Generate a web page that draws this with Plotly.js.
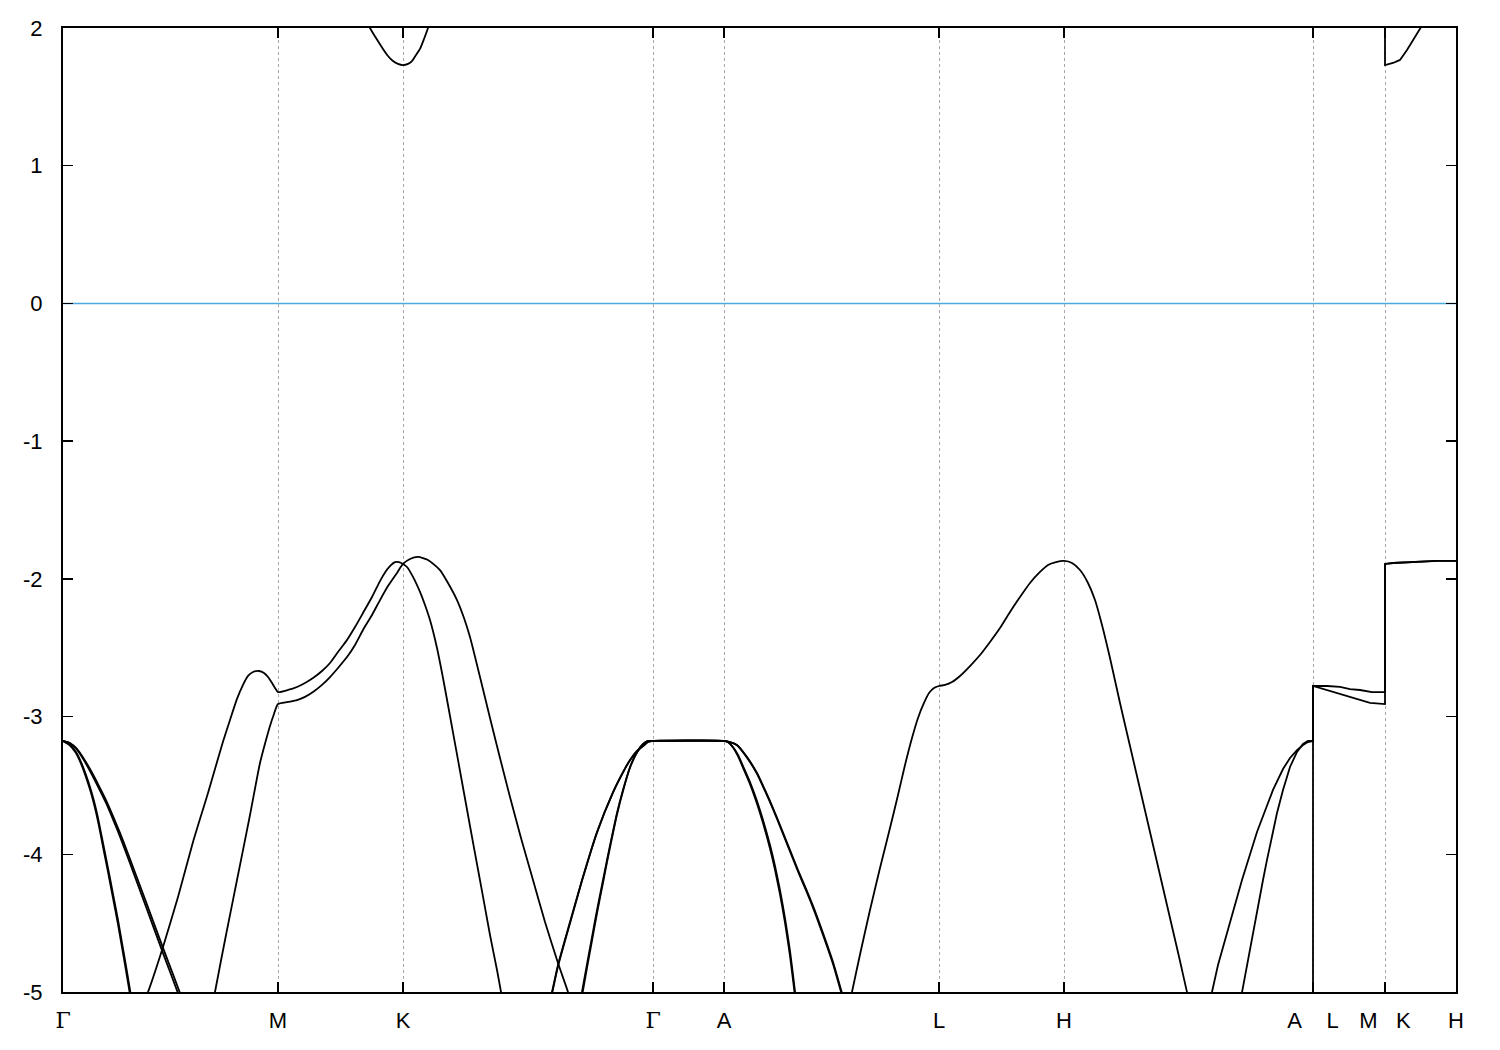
<!DOCTYPE html>
<html>
<head>
<meta charset="utf-8">
<script src="https://cdn.plot.ly/plotly-3.0.1.min.js"></script>
<style>html,body{margin:0;padding:0;background:#fff;}#chart{width:1500px;height:1050px;}</style>
</head>
<body>
<div id="chart"></div>
<script>
// High-symmetry path positions (k-distance) and labels
const kPoints = [0, 0.215, 0.340, 0.590, 0.661, 0.876, 1.001, 1.250, 1.322, 1.393];
const kLabels = ['Γ', 'M', 'K', 'Γ', 'A', 'L', 'H', 'A\u00a0\u00a0\u00a0\u00a0L', 'M\u00a0\u00a0\u00a0K', 'H'];
const energyTicks = [-5, -4, -3, -2, -1, 0, 1, 2];
const energyTickText = ['-5', '-4', '-3', '-2', '-1', '0', '1', '2'];
const fermiLevel = 0;

// Γ–M steep pair
const kS = [0,0.007,0.013,0.018,0.023,0.027,0.031,0.035,0.040,0.045,0.050,0.055,0.059,0.063,0.067,0.069];
const eS1 = [-3.177,-3.206,-3.257,-3.330,-3.424,-3.511,-3.613,-3.736,-3.918,-4.100,-4.288,-4.477,-4.644,-4.811,-4.985,-5.073];
const eS2 = [-3.177,-3.210,-3.265,-3.342,-3.440,-3.530,-3.635,-3.760,-3.945,-4.128,-4.318,-4.508,-4.676,-4.844,-5.019,-5.108];

// Γ–M less steep pair
const kP = [0,0.007,0.014,0.021,0.027,0.035,0.043,0.050,0.057,0.064,0.070,0.083,0.100,0.117,0.121];
const eP1 = [-3.177,-3.192,-3.235,-3.308,-3.381,-3.490,-3.606,-3.722,-3.845,-3.976,-4.092,-4.346,-4.680,-5.007,-5.087];
const eP2 = [-3.177,-3.195,-3.241,-3.318,-3.395,-3.508,-3.627,-3.746,-3.872,-4.006,-4.124,-4.381,-4.718,-5.047,-5.128];

// Band rising to M, upper M–K, steep K–Γ
const kC = [0.082,0.085,0.100,0.115,0.130,0.145,0.159,0.167,0.174,0.180,0.185,0.190,0.196,0.201,0.205,0.209,0.212,0.215,
  0.225,0.234,0.242,0.250,0.259,0.267,0.275,0.284,0.292,0.300,0.309,0.317,0.323,0.327,0.332,0.336,0.340,
  0.344,0.350,0.357,0.362,0.367,0.374,0.380,0.387,0.395,0.403,0.411,0.419,0.427,0.434,0.438,0.440];
const eC = [-5.051,-5.000,-4.673,-4.310,-3.911,-3.555,-3.206,-3.025,-2.872,-2.770,-2.705,-2.676,-2.669,-2.684,-2.713,-2.756,-2.792,-2.822,
  -2.807,-2.785,-2.756,-2.720,-2.669,-2.611,-2.531,-2.444,-2.350,-2.248,-2.132,-2.016,-1.943,-1.907,-1.878,-1.878,-1.892,
  -1.914,-1.986,-2.095,-2.190,-2.299,-2.502,-2.720,-2.996,-3.315,-3.635,-3.954,-4.267,-4.586,-4.840,-5.000,-5.080];

// Band rising to M (lower), M–K lower, gentle K–Γ
const kD = [0.150,0.152,0.163,0.174,0.187,0.197,0.203,0.207,0.211,0.215,
  0.225,0.234,0.242,0.250,0.259,0.267,0.275,0.284,0.292,0.300,0.309,0.317,0.325,0.334,0.340,
  0.347,0.355,0.365,0.377,0.385,0.394,0.401,0.407,0.417,0.427,0.437,0.447,0.458,0.470,0.482,0.495,0.505,0.508];
const eD = [-5.094,-5.000,-4.586,-4.187,-3.715,-3.337,-3.170,-3.068,-2.981,-2.909,
  -2.894,-2.880,-2.857,-2.822,-2.770,-2.713,-2.647,-2.568,-2.480,-2.371,-2.262,-2.154,-2.052,-1.957,-1.892,
  -1.856,-1.841,-1.863,-1.936,-2.030,-2.154,-2.284,-2.422,-2.713,-3.010,-3.301,-3.584,-3.882,-4.187,-4.492,-4.790,-5.000,-5.073];

// Outer K–Γ band, flat Γ–A, outer A–L
const kG1 = [0.487,0.489,0.495,0.507,0.519,0.534,0.550,0.560,0.567,0.574,0.580,0.585,0.590,0.661,
  0.667,0.674,0.684,0.694,0.702,0.710,0.719,0.727,0.735,0.744,0.752,0.760,0.770,0.779,0.782];
const eG1a = [-5.058,-5.000,-4.804,-4.492,-4.187,-3.838,-3.548,-3.403,-3.315,-3.250,-3.214,-3.185,-3.177,-3.177,
  -3.185,-3.206,-3.294,-3.410,-3.533,-3.664,-3.824,-3.969,-4.114,-4.267,-4.412,-4.572,-4.782,-5.007,-5.073];
const eG1b = [-5.070,-5.012,-4.814,-4.500,-4.193,-3.843,-3.552,-3.406,-3.317,-3.251,-3.215,-3.185,-3.177,-3.177,
  -3.186,-3.208,-3.298,-3.416,-3.540,-3.672,-3.833,-3.979,-4.125,-4.279,-4.425,-4.586,-4.797,-5.023,-5.090];

// Inner K–Γ band, flat Γ–A, inner A–L
const kG2 = [0.517,0.519,0.524,0.529,0.534,0.540,0.544,0.549,0.554,0.560,0.567,0.574,0.580,0.585,0.590,0.661,
  0.665,0.670,0.675,0.680,0.687,0.694,0.700,0.707,0.712,0.717,0.722,0.727,0.731,0.733];
const eG2a = [-5.080,-5.000,-4.797,-4.601,-4.405,-4.187,-4.041,-3.867,-3.700,-3.533,-3.366,-3.257,-3.199,-3.177,-3.177,-3.177,
  -3.185,-3.221,-3.279,-3.359,-3.475,-3.613,-3.751,-3.933,-4.085,-4.260,-4.463,-4.702,-4.935,-5.058];
const eG2b = [-5.110,-5.030,-4.825,-4.627,-4.428,-4.207,-4.058,-3.881,-3.711,-3.541,-3.372,-3.261,-3.201,-3.177,-3.177,-3.177,
  -3.186,-3.225,-3.287,-3.371,-3.490,-3.632,-3.773,-3.959,-4.113,-4.291,-4.496,-4.737,-4.971,-5.090];

// Band through L and H
const kL = [0.787,0.789,0.798,0.807,0.817,0.827,0.835,0.842,0.849,0.855,0.861,0.866,0.871,0.876,
  0.882,0.889,0.897,0.907,0.917,0.927,0.937,0.947,0.957,0.967,0.977,0.985,0.993,1.001,
  1.009,1.017,1.025,1.032,1.039,1.047,1.057,1.067,1.077,1.087,1.097,1.107,1.117,1.124,1.127];
const eL = [-5.073,-5.000,-4.695,-4.405,-4.100,-3.809,-3.570,-3.352,-3.156,-3.010,-2.901,-2.829,-2.792,-2.778,
  -2.770,-2.749,-2.705,-2.633,-2.553,-2.458,-2.357,-2.241,-2.132,-2.030,-1.950,-1.899,-1.878,-1.870,
  -1.885,-1.936,-2.030,-2.154,-2.335,-2.575,-2.901,-3.214,-3.526,-3.838,-4.150,-4.463,-4.775,-5.000,-5.080];

// Outer H–A band, then L–M upper, then K–H
const kHA1 = [1.147,1.149,1.155,1.167,1.179,1.194,1.210,1.220,1.227,1.234,1.240,1.245,1.250,
  1.250,1.264,1.277,1.287,1.297,1.309,1.322,
  1.322,1.330,1.350,1.374,1.393];
const eHA1 = [-5.080,-5.000,-4.804,-4.492,-4.187,-3.838,-3.533,-3.381,-3.301,-3.243,-3.206,-3.185,-3.177,
  -2.778,-2.778,-2.785,-2.800,-2.807,-2.822,-2.822,
  -1.892,-1.885,-1.878,-1.870,-1.870];

// Inner H–A band, then L–M lower, then K–H
const kHA2 = [1.177,1.179,1.184,1.189,1.194,1.200,1.204,1.209,1.214,1.220,1.227,1.234,1.240,1.245,1.250,
  1.250,1.260,1.277,1.297,1.307,1.322,
  1.322,1.330,1.350,1.374,1.393];
const eHA2 = [-5.080,-5.000,-4.797,-4.601,-4.405,-4.187,-4.041,-3.867,-3.700,-3.533,-3.366,-3.257,-3.199,-3.177,-3.177,
  -2.778,-2.800,-2.836,-2.880,-2.901,-2.909,
  -1.892,-1.885,-1.878,-1.870,-1.870];

// Deep band at A jumping to L
const kDeep = [1.250, 1.250];
const eDeep = [-5.600, -2.778];

// Conduction band near K and at K (K–H)
const kCB1 = [0.303,0.307,0.313,0.320,0.325,0.330,0.335,0.340,0.345,0.349,0.353,0.357,0.361,0.365,0.367];
const eCB1 = [2.058,2.000,1.927,1.848,1.797,1.760,1.739,1.731,1.739,1.760,1.804,1.848,1.920,2.000,2.051];
const kCB2 = [1.322,1.322,1.330,1.337,1.344,1.350,1.357,1.360];
const eCB2 = [2.200,1.731,1.746,1.768,1.840,1.913,2.000,2.030];

// [k, E, smooth?]
const bandPairs = [
  [kS, eS1, true], [kS, eS2, true], [kP, eP1, true], [kP, eP2, true], [kC, eC, true], [kD, eD, true],
  [kG1, eG1a, true], [kG1, eG1b, true], [kG2, eG2a, true], [kG2, eG2b, true], [kL, eL, true],
  [kHA1, eHA1, false], [kHA2, eHA2, false], [kDeep, eDeep, false], [kCB1, eCB1, true], [kCB2, eCB2, false]
];

const traces = bandPairs.map(([k, e, smooth]) => ({
  x: k, y: e, type: 'scatter', mode: 'lines',
  line: smooth ? {color: '#000000', width: 1.8, shape: 'spline', smoothing: 0.6}
               : {color: '#000000', width: 1.8},
  hoverinfo: 'skip', showlegend: false
}));

const gammaStyled = t => t === 'Γ' ? '<span style="font-family:DejaVu Serif">Γ</span>' : t;

const layout = {
  width: 1500, height: 1050,
  margin: {l: 63, r: 44, t: 28, b: 58, pad: 0},
  paper_bgcolor: '#ffffff', plot_bgcolor: '#ffffff',
  font: {family: 'Liberation Sans, Arial, sans-serif', size: 22, color: '#000000'},
  showlegend: false,
  xaxis: {
    range: [kPoints[0], kPoints[kPoints.length - 1]],
    tickmode: 'array', tickvals: kPoints, ticktext: kLabels.map(gammaStyled),
    ticks: 'inside', ticklen: 10, tickwidth: 1.5, tickcolor: '#000000',
    showline: true, mirror: 'ticks', linecolor: '#000000', linewidth: 2,
    showgrid: true, gridcolor: '#a8a8a8', gridwidth: 1, griddash: '3px,3px',
    zeroline: false, ticklabelstandoff: 8, fixedrange: true
  },
  yaxis: {
    range: [energyTicks[0], energyTicks[energyTicks.length - 1]],
    tickmode: 'array', tickvals: energyTicks, ticktext: energyTickText,
    ticks: 'inside', ticklen: 10, tickwidth: 1.5, tickcolor: '#000000',
    showline: true, mirror: 'ticks', linecolor: '#000000', linewidth: 2,
    showgrid: false, zeroline: false, ticklabelstandoff: 14, fixedrange: true
  },
  shapes: [{
    type: 'line', xref: 'paper', yref: 'y', x0: 0, x1: 1, y0: fermiLevel, y1: fermiLevel,
    line: {color: '#4ba9e0', width: 1.6}, layer: 'below'
  }]
};

Plotly.newPlot('chart', traces, layout, {displayModeBar: false, staticPlot: true});
</script>
</body>
</html>
